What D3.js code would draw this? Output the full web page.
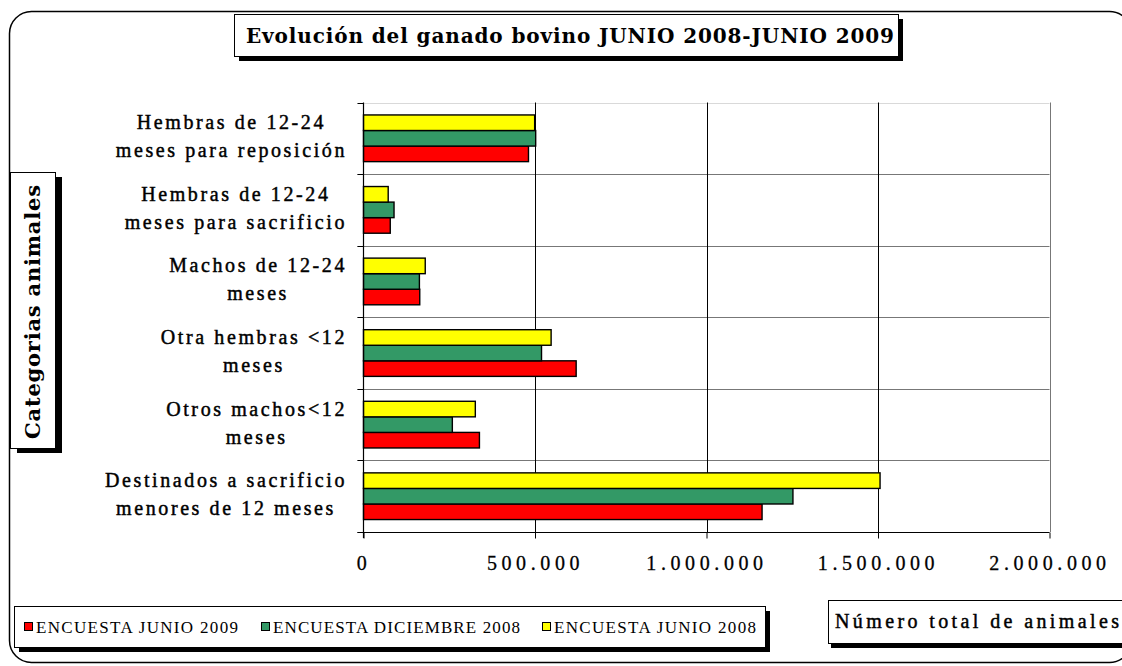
<!DOCTYPE html>
<html>
<head>
<meta charset="utf-8">
<script src="https://cdn.jsdelivr.net/npm/d3@7"></script>
<style>
  body { margin: 0; background: #fff; }
  svg { display: block; }
  .cat-label { font-family: "Liberation Serif", serif; font-size: 20px; letter-spacing: 2.6px; fill: #000; stroke: #000; stroke-width: 0.45px; }
  .tick-label { font-family: "Liberation Serif", serif; font-size: 20px; letter-spacing: 4.6px; fill: #000; stroke: #000; stroke-width: 0.3px; }
  .legend-text { font-family: "Liberation Serif", serif; font-size: 17px; fill: #000; }
</style>
</head>
<body>
<svg id="chart"></svg>
<script>
// categories, top to bottom as drawn
const categories = [
  ['Hembras de 12-24', 'meses para reposición'],
  ['Hembras de 12-24', 'meses para sacrificio'],
  ['Machos de 12-24', 'meses'],
  ['Otra hembras <12', 'meses'],
  ['Otros machos<12', 'meses'],
  ['Destinados a sacrificio', 'menores de 12 meses']
];

const seriesNames = ['ENCUESTA JUNIO 2009', 'ENCUESTA DICIEMBRE 2008', 'ENCUESTA JUNIO 2008'];
const junio2009 = [481000, 78000, 164000, 620000, 338000, 1162000];
const diciembre2008 = [502000, 89000, 163000, 519000, 259000, 1252000];
const junio2008 = [499000, 72000, 180000, 547000, 326000, 1506000];

const xTicks = [0, 500000, 1000000, 1500000, 2000000];

const chartTitle = 'Evolución del ganado bovino JUNIO 2008-JUNIO 2009';
const yTitle = 'Categorias animales';
const xTitle = 'Número total de animales';

const colors = { 'ENCUESTA JUNIO 2009': '#ff0000', 'ENCUESTA DICIEMBRE 2008': '#339966', 'ENCUESTA JUNIO 2008': '#ffff00' };

const width = 1122, height = 666;
const plot = { left: 363.5, right: 1049.5, top: 102.5, bottom: 532 };

const svg = d3.select('#chart')
  .attr('width', width)
  .attr('height', height);

// outer rounded frame
svg.append('rect')
  .attr('x', 9.5).attr('y', 11.5)
  .attr('width', 1122).attr('height', 651)
  .attr('rx', 22).attr('ry', 22)
  .attr('fill', '#fff')
  .attr('stroke', '#000')
  .attr('stroke-width', 1.5);

// box with a black drop shadow
function shadowBox(x, y, w, h, dx, dy) {
  svg.append('rect')
    .attr('x', x + dx).attr('y', y + dy)
    .attr('width', w).attr('height', h)
    .attr('fill', '#000');
  svg.append('rect')
    .attr('x', x + 0.5).attr('y', y + 0.5)
    .attr('width', w).attr('height', h)
    .attr('fill', '#fff')
    .attr('stroke', '#000')
    .attr('stroke-width', 1);
}

// Title
shadowBox(234, 14, 664, 42, 5, 5);
svg.append('text')
  .attr('x', 246).attr('y', 43)
  .attr('textLength', 648)
  .attr('lengthAdjust', 'spacing')
  .style('font-family', '"DejaVu Serif", serif')
  .style('font-weight', 'bold')
  .style('font-size', '20px')
  .text(chartTitle);

// Y axis title
shadowBox(10, 172, 45, 276, 7, 5);
svg.append('text')
  .attr('transform', 'translate(40,312) rotate(-90)')
  .attr('text-anchor', 'middle')
  .attr('textLength', 254)
  .attr('lengthAdjust', 'spacing')
  .style('font-family', '"DejaVu Serif", serif')
  .style('font-weight', 'bold')
  .style('font-size', '21px')
  .text(yTitle);

// Scales
const x = d3.scaleLinear()
  .domain([0, 2000000])
  .range([plot.left, plot.right]);

const y = d3.scaleBand()
  .domain(d3.range(categories.length))
  .range([plot.top, plot.bottom])
  .padding(0);

// yellow on top, red at the bottom of each group
const ySub = d3.scaleBand()
  .domain(['ENCUESTA JUNIO 2008', 'ENCUESTA DICIEMBRE 2008', 'ENCUESTA JUNIO 2009'])
  .range([0, y.bandwidth()])
  .paddingInner(0)
  .paddingOuter(0.8);

const grid = svg.append('g');

// horizontal category separators
const bounds = d3.range(categories.length + 1).map(i => i < categories.length ? y(i) : plot.bottom);
grid.selectAll('.hline')
  .data(bounds)
  .join('line')
  .attr('x1', plot.left - 6).attr('x2', plot.right)
  .attr('y1', d => Math.round(d) + 0.5).attr('y2', d => Math.round(d) + 0.5)
  .attr('stroke', (d, i) => i === 0 ? '#d9d9d9' : (i === categories.length ? '#000' : '#777'))
  .attr('stroke-width', 1);

// left tick stubs stay black
grid.selectAll('.stub')
  .data(bounds)
  .join('line')
  .attr('x1', plot.left - 6).attr('x2', plot.left)
  .attr('y1', d => Math.round(d) + 0.5).attr('y2', d => Math.round(d) + 0.5)
  .attr('stroke', '#000');

// vertical gridlines
grid.selectAll('.vline')
  .data(xTicks.slice(1))
  .join('line')
  .attr('x1', d => Math.round(x(d)) + 0.5).attr('x2', d => Math.round(x(d)) + 0.5)
  .attr('y1', plot.top).attr('y2', plot.bottom)
  .attr('stroke', d => d === 2000000 ? '#777' : '#000')
  .attr('stroke-width', 1);

// Bars
const rows = categories.map((c, i) => ({
  i: i,
  values: [
    { key: 'ENCUESTA JUNIO 2009', value: junio2009[i] },
    { key: 'ENCUESTA DICIEMBRE 2008', value: diciembre2008[i] },
    { key: 'ENCUESTA JUNIO 2008', value: junio2008[i] }
  ]
}));

svg.append('g')
  .selectAll('g')
  .data(rows)
  .join('g')
  .attr('transform', d => `translate(0,${y(d.i)})`)
  .selectAll('rect')
  .data(d => d.values)
  .join('rect')
  .attr('x', x(0))
  .attr('y', d => ySub(d.key))
  .attr('width', d => x(d.value) - x(0))
  .attr('height', ySub.bandwidth())
  .attr('fill', d => colors[d.key])
  .attr('stroke', '#000')
  .attr('stroke-width', 1.4);

// X axis
const fmt = d3.formatLocale({ decimal: ',', thousands: '.', grouping: [3], currency: ['', ''] }).format(',');
const xAxis = d3.axisBottom(x)
  .tickValues(xTicks)
  .tickFormat(fmt)
  .tickSize(6)
  .tickPadding(17)
  .tickSizeOuter(0);

const xAxisG = svg.append('g')
  .attr('transform', `translate(0,${plot.bottom + 0.5})`)
  .call(xAxis);
xAxisG.select('.domain').remove();
xAxisG.selectAll('.tick line').attr('stroke', '#000');
xAxisG.selectAll('.tick text')
  .attr('class', 'tick-label')
  .attr('font-family', null)
  .attr('font-size', null);

// Y axis line
svg.append('line')
  .attr('x1', plot.left).attr('x2', plot.left)
  .attr('y1', plot.top).attr('y2', plot.bottom + 6)
  .attr('stroke', '#000')
  .attr('stroke-width', 1.2);

// Category labels: two centred lines, block right-aligned to the axis
const labelRight = 347;
categories.forEach((lines, i) => {
  const c = y(i) + y.bandwidth() / 2;
  const g = svg.append('g');
  const texts = lines.map((l, k) => g.append('text')
    .attr('class', 'cat-label')
    .attr('y', k === 0 ? c - 9 : c + 19)
    .attr('text-anchor', 'middle')
    .text(l));
  const maxW = d3.max(texts, t => t.node().getComputedTextLength());
  texts.forEach(t => t.attr('x', labelRight - maxW / 2));
});

// Legend
shadowBox(14, 606, 751, 41, 5, 5);
const legendX = [24, 261, 542];
const legendW = [202, 247, 202];
seriesNames.forEach((s, i) => {
  svg.append('rect')
    .attr('x', legendX[i] + 0.5).attr('y', 622.5)
    .attr('width', 8).attr('height', 8)
    .attr('fill', colors[s])
    .attr('stroke', '#000')
    .attr('stroke-width', 1);
  svg.append('text')
    .attr('class', 'legend-text')
    .attr('x', legendX[i] + 12).attr('y', 633)
    .attr('textLength', legendW[i])
    .attr('lengthAdjust', 'spacing')
    .text(s);
});

// X axis title
shadowBox(828, 600, 320, 43, 3, 5);
svg.append('text')
  .attr('x', 835).attr('y', 628)
  .attr('textLength', 284)
  .attr('lengthAdjust', 'spacing')
  .style('font-family', '"Liberation Serif", serif')
  .style('font-size', '20px')
  .style('stroke', '#000')
  .style('stroke-width', '0.45px')
  .text(xTitle);
</script>
</body>
</html>
